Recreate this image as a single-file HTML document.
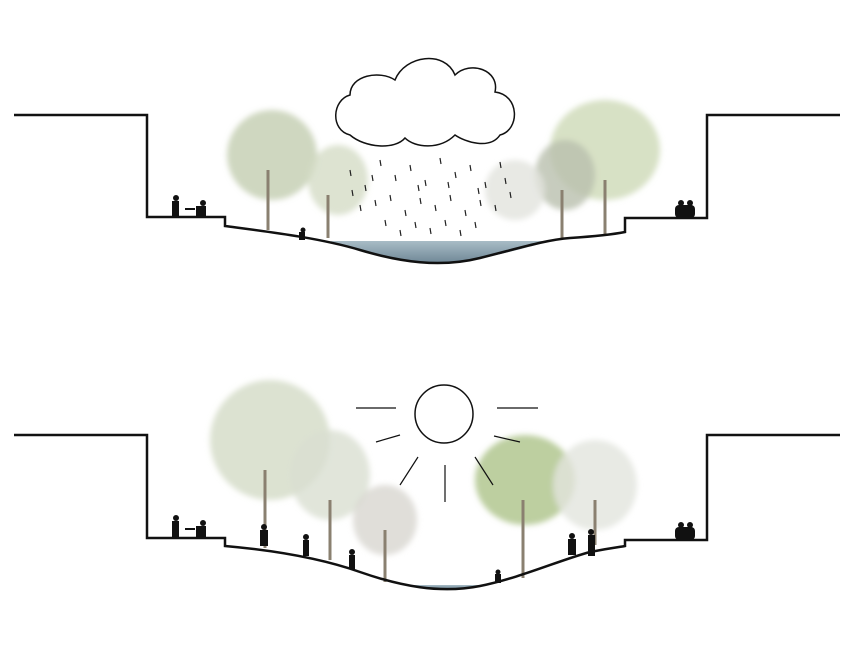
<!DOCTYPE html>
<html><head><style>html,body{margin:0;padding:0;background:#fff;width:846px;height:646px;overflow:hidden}</style></head>
<body>
<svg width="846" height="646" viewBox="0 0 846 646" xmlns="http://www.w3.org/2000/svg">
<defs>
<filter id="b" x="-20%" y="-20%" width="140%" height="140%"><feGaussianBlur stdDeviation="3"/></filter>
<linearGradient id="w" x1="0" y1="0" x2="0" y2="1"><stop offset="0" stop-color="#a8bcc6"/><stop offset="1" stop-color="#6f8796"/></linearGradient>
</defs>
<g filter="url(#b)">
<ellipse cx="272" cy="155" rx="45" ry="45" fill="#c3cdb0" opacity=".8"/>
<ellipse cx="338" cy="180" rx="30" ry="35" fill="#d5dcc6" opacity=".8"/>
<ellipse cx="605" cy="150" rx="55" ry="50" fill="#cdd9b6" opacity=".8"/>
<ellipse cx="565" cy="175" rx="30" ry="35" fill="#b9bfae" opacity=".8"/>
<ellipse cx="515" cy="190" rx="30" ry="30" fill="#e2e4dd" opacity=".8"/>
</g>
<g stroke="#8a8070" stroke-width="3" fill="none"><path d="M268 230V170M328 238V195M562 238V190M605 234V180"/></g>
<g stroke="#222" stroke-width="1.2">
<path d="M350 170l1 6M365 185l1 6M380 160l1 6M395 175l1 6M410 165l1 6M425 180l1 6M440 158l1 6M455 172l1 6M470 165l1 6M485 182l1 6M500 162l1 6M360 205l1 6M375 200l1 6M390 195l1 6M405 210l1 6M420 198l1 6M435 205l1 6M450 195l1 6M465 210l1 6M480 200l1 6M495 205l1 6M510 192l1 6M385 220l1 6M400 230l1 6M415 222l1 6M430 228l1 6M445 220l1 6M460 230l1 6M475 222l1 6M352 190l1 6M372 175l1 6M418 185l1 6M448 182l1 6M478 188l1 6M505 178l1 6"/>
</g>
<path d="M330 241 H552 C530 246 510 253 480 258 C440 268 400 262 360 250 C350 247 340 244 330 241Z" fill="url(#w)"/>
<path d="M14 115H147V217H225V226 C270 232 320 238 360 250 C400 262 440 268 480 258 C520 248 545 240 570 238 C600 236 615 234 625 232 V218H707V115H840" fill="none" stroke="#111" stroke-width="2.5"/>
<path d="M350 135 C330 130 332 100 350 95 C350 75 380 70 395 80 C405 55 445 50 455 75 C470 60 500 70 495 92 C520 95 520 130 500 135 C490 150 465 142 455 135 C440 150 415 148 405 138 C395 150 365 148 350 135Z" fill="#fff" stroke="#111" stroke-width="1.5"/>
<g fill="#111">
<circle cx="176" cy="198" r="3"/><rect x="172" y="201" width="7" height="16"/>
<circle cx="203" cy="203" r="3"/><rect x="196" y="206" width="10" height="11"/>
<rect x="185" y="208" width="10" height="2"/>
<circle cx="303" cy="230" r="2.5"/><rect x="299" y="232" width="6" height="8"/>
<rect x="675" y="205" width="20" height="13" rx="4"/><circle cx="681" cy="203" r="3"/><circle cx="690" cy="203" r="3"/>
</g>
<g filter="url(#b)">
<ellipse cx="270" cy="440" rx="60" ry="60" fill="#d3dbc6" opacity=".8"/>
<ellipse cx="330" cy="475" rx="40" ry="45" fill="#dadfd1" opacity=".8"/>
<ellipse cx="385" cy="520" rx="32" ry="35" fill="#d8d6d0" opacity=".8"/>
<ellipse cx="525" cy="480" rx="50" ry="45" fill="#b6ca96" opacity=".9"/>
<ellipse cx="595" cy="485" rx="42" ry="45" fill="#e2e5dd" opacity=".8"/>
</g>
<g stroke="#8a8070" stroke-width="3" fill="none"><path d="M265 548V470M330 560V500M385 582V530M523 578V500M595 545V500"/></g>
<circle cx="444" cy="414" r="29" fill="#fff" stroke="#111" stroke-width="1.5"/>
<g stroke="#111" stroke-width="1.2"><path d="M356 408H396M497 408H538M376 442L400 435M494 436L520 442M400 485L418 457M445 465V502M475 457L493 485"/></g>
<path d="M405 585 C430 590 460 590 485 585Z" fill="url(#w)"/>
<path d="M14 435H147V538H225V546 C270 550 320 558 360 572 C400 586 440 594 480 586 C520 578 560 560 590 552 C610 548 620 547 625 546 V540H707V435H840" fill="none" stroke="#111" stroke-width="2.5"/>
<g fill="#111">
<circle cx="176" cy="518" r="3"/><rect x="172" y="521" width="7" height="16"/>
<circle cx="203" cy="523" r="3"/><rect x="196" y="526" width="10" height="11"/>
<rect x="185" y="528" width="10" height="2"/>
<circle cx="264" cy="527" r="3"/><rect x="260" y="530" width="8" height="16"/>
<circle cx="306" cy="537" r="3"/><rect x="303" y="540" width="6" height="16"/>
<circle cx="352" cy="552" r="3"/><rect x="349" y="555" width="6" height="14"/>
<circle cx="498" cy="572" r="2.5"/><rect x="495" y="574" width="6" height="9"/>
<circle cx="572" cy="536" r="3"/><rect x="568" y="539" width="8" height="16"/>
<circle cx="591" cy="532" r="3"/><rect x="588" y="535" width="7" height="21"/>
<rect x="675" y="527" width="20" height="13" rx="4"/><circle cx="681" cy="525" r="3"/><circle cx="690" cy="525" r="3"/>
</g>
</svg>
</body></html>
